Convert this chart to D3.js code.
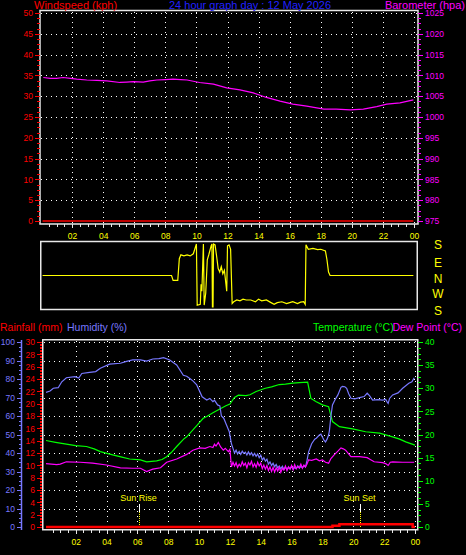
<!DOCTYPE html>
<html><head><meta charset="utf-8">
<script src="https://cdn.jsdelivr.net/npm/d3@7"></script>
<style>body{margin:0;background:#000}svg{display:block}</style>
</head><body>
<script>
// ---------- DATA ----------
const hourLabels = ["02","04","06","08","10","12","14","16","18","20","22","00"];
const hourTicks = [2,4,6,8,10,12,14,16,18,20,22,24];
const dirLabels = ["S","E","N","W","S"];
const dirLabelDeg = [180,90,0,-90,-180];
const sunLabels = ["Sun Rise","Sun Set"];
const sunHours = [6.12,20.43];

const windSpeed = [[0.1,0],[6,0],[12,0],[18,0],[23.96,0]];
const barometer = [[0.15,1009.5],[0.6,1009.3],[1.0,1009.3],[1.43,1009.5],[1.9,1009.3],[2.3,1009.1],[2.94,1008.9],[3.6,1008.8],[4.23,1008.7],[5.08,1008.3],[5.5,1008.4],[5.94,1008.5],[6.58,1008.4],[7.0,1008.7],[7.45,1008.9],[8.0,1009.0],[8.5,1009.1],[9.0,1009.0],[9.4,1008.9],[10.2,1008.3],[11.1,1007.9],[11.95,1007.0],[12.8,1006.5],[13.66,1005.8],[14.5,1004.7],[15.38,1003.8],[16.2,1003.1],[17.1,1002.6],[18.2,1001.9],[19.0,1001.9],[19.9,1001.7],[20.74,1001.9],[21.6,1002.5],[22.25,1003.1],[23.1,1003.4],[23.96,1004.1]];

const windDir = [[0.1,0],[8.4,0],[8.5,-28],[8.8,-28],[8.9,96],[9.0,118],[9.2,112],[9.4,118],[9.6,112],[9.8,124],[10.0,180],[10.05,-170],[10.25,-165],[10.3,-50],[10.35,-90],[10.45,180],[10.5,-169],[10.6,-100],[10.7,90],[10.8,120],[10.95,170],[11.0,180],[11.03,-180],[11.07,-180],[11.1,180],[11.2,175],[11.3,110],[11.4,40],[11.5,20],[11.6,50],[11.7,10],[11.8,30],[11.95,-90],[12.0,170],[12.1,175],[12.2,150],[12.3,-160],[12.4,-150],[12.6,-140],[12.8,-145],[13.0,-135],[13.2,-140],[13.5,-140],[13.8,-150],[14.0,-135],[14.2,-145],[14.5,-140],[14.8,-155],[15.0,-165],[15.2,-155],[15.5,-150],[15.8,-160],[16.0,-155],[16.2,-150],[16.5,-160],[16.7,-152],[16.9,-150],[17.0,-165],[17.05,175],[17.2,150],[17.5,155],[17.8,148],[18.0,150],[18.3,140],[18.4,90],[18.5,20],[18.6,0],[23.96,0]];

const humidity = [[0.08,72.8],[0.34,73.5],[0.55,75],[0.87,75.3],[1.1,78.5],[1.4,80.7],[1.96,81.3],[2.2,80.5],[2.4,83],[2.9,83.6],[3.3,84],[3.6,85.8],[4.2,88],[4.9,88.5],[5.3,89.5],[5.7,90.3],[6.2,90.3],[6.6,89.7],[7.0,90.8],[7.4,91.0],[7.7,91.5],[8.1,90.3],[8.55,87.6],[8.98,82],[9.2,81.5],[9.4,80.3],[9.6,79],[9.85,76.8],[10.2,70.4],[10.5,68.6],[10.7,69.5],[10.9,67.7],[11.0,68.5],[11.2,66],[11.35,65.5],[11.45,60],[11.6,58.8],[11.74,56],[11.96,51.5],[12.1,45],[12.2,42.5],[12.3,40.0],[12.4,41.5],[12.5,39.5],[12.6,40.8],[12.7,39.2],[12.8,41.0],[12.9,39.8],[13.0,40.5],[13.1,38.9],[13.2,40.6],[13.3,39.0],[13.4,40.2],[13.5,38.5],[13.6,39.8],[13.7,38.2],[13.8,39.5],[13.9,37.5],[14.0,38.8],[14.1,36.2],[14.2,37.4],[14.3,35.6],[14.4,36.6],[14.5,34.0],[14.6,35.2],[14.7,33.2],[14.8,34.5],[14.9,32.6],[15.0,33.8],[15.1,32.0],[15.2,33.0],[15.3,31.5],[15.4,32.8],[15.5,31.2],[15.6,32.4],[15.7,31.0],[15.8,32.3],[15.9,31.4],[16.0,32.6],[16.1,31.2],[16.2,32.2],[16.3,31.6],[16.4,33.0],[16.5,31.8],[16.6,32.8],[16.7,32.0],[16.8,33.2],[16.9,32.4],[17.0,36.0],[17.1,40.5],[17.3,45],[17.5,47.5],[17.6,48],[17.8,49.7],[17.9,50.2],[18.0,48.5],[18.1,47],[18.2,46],[18.3,47.5],[18.4,49.7],[18.45,52],[18.55,60],[18.65,66],[18.8,68.5],[19.0,71.4],[19.2,75.5],[19.3,76],[19.45,75.8],[19.57,75],[19.7,72],[19.85,69.6],[20.1,69.3],[20.4,69.9],[20.7,70.5],[20.9,72.3],[21.05,71],[21.25,68.6],[21.6,68.8],[21.9,68.6],[22.1,69],[22.2,67.5],[22.26,66.8],[22.35,69.5],[22.55,71.4],[22.9,72.5],[23.2,75],[23.6,77.7],[23.8,78.5],[23.95,80.7]];

const temperature = [[0.08,18.7],[0.7,18.3],[1.4,17.9],[2.0,17.6],[2.7,17.4],[3.2,16.9],[3.6,16.3],[4.4,15.6],[5.0,15.1],[5.5,14.7],[6.2,14.5],[6.6,14.1],[7.25,14.3],[7.6,14.6],[7.9,15.2],[8.2,16.1],[8.55,17.4],[9.0,19.0],[9.2,19.5],[9.85,21.9],[10.27,23.5],[10.5,23.9],[10.9,24.7],[11.35,25.5],[11.74,26.2],[12.0,26.6],[12.3,28.0],[12.55,28.5],[13.04,28.4],[13.3,28.6],[13.7,29.3],[14.3,30.0],[14.7,30.3],[15.2,30.8],[15.6,30.9],[16.07,31.1],[16.5,31.2],[17.04,31.3],[17.25,27.8],[17.6,27.1],[18.0,26.4],[18.4,26.0],[18.65,22.8],[19.1,21.7],[19.95,21.2],[20.8,20.6],[21.7,20.3],[22.55,19.5],[23.0,19.0],[23.4,18.4],[24,17.7]];

const dewPoint = [[0.08,13.7],[0.77,13.5],[1.0,13.6],[1.4,14.1],[2.3,14.0],[3.1,13.8],[4.0,13.4],[4.9,12.8],[5.7,12.7],[6.2,12.7],[6.6,12.0],[7.0,12.5],[7.5,12.8],[7.9,14.0],[8.55,14.7],[9.2,15.7],[9.6,16.6],[10.05,17.1],[10.4,17.0],[10.7,17.4],[10.9,17.2],[11.0,17.9],[11.1,17.5],[11.25,18.3],[11.4,17.3],[11.57,16.6],[11.7,17.0],[11.9,16.3],[12.0,16.8],[12.1,13.0],[12.2,14.0],[12.3,13.2],[12.4,13.9],[12.5,12.9],[12.6,13.6],[12.7,13.1],[12.8,14.1],[12.9,13.3],[13.0,13.8],[13.1,12.8],[13.2,13.9],[13.3,13.4],[13.4,14.2],[13.5,13.0],[13.6,13.7],[13.7,12.9],[13.8,14.0],[13.9,13.2],[14.0,13.8],[14.1,12.6],[14.2,13.4],[14.3,12.5],[14.4,13.3],[14.5,12.2],[14.6,13.0],[14.7,12.0],[14.8,12.9],[14.9,11.9],[15.0,12.8],[15.1,12.1],[15.2,12.9],[15.3,11.8],[15.4,12.7],[15.5,12.3],[15.6,13.2],[15.7,12.2],[15.8,13.0],[15.9,12.5],[16.0,13.3],[16.1,12.4],[16.2,13.5],[16.3,12.6],[16.4,13.1],[16.5,12.8],[16.6,13.6],[16.7,12.7],[16.8,13.4],[16.9,13.0],[17.0,13.6],[17.1,14.5],[17.3,14.4],[17.6,14.7],[17.8,14.3],[18.0,14.5],[18.2,14.0],[18.4,13.8],[18.55,14.8],[18.76,15.6],[19.0,16.4],[19.2,17.1],[19.35,16.9],[19.5,16.6],[19.7,15.8],[19.85,15.2],[20.4,15.2],[20.9,15.0],[21.1,14.6],[21.35,14.1],[21.9,13.9],[22.1,13.7],[22.26,13.3],[22.4,14.0],[22.55,14.1],[23.2,14.0],[23.95,14.0]];

const rainfall = [[0.08,0],[18.65,0],[18.65,0.2],[19.1,0.2],[19.1,0.45],[23.85,0.45],[23.85,0],[24,0]];

// ---------- DRAW ----------
const W = 466, H = 555;
const svg = d3.select("body").append("svg").attr("width", W).attr("height", H)
  .style("background", "#000");

const FONT = "Liberation Sans, Arial, sans-serif";
const AXF = 8.5;
const C = {red:"#ff0000", mag:"#ff00ff", blue:"#2020ff", hum:"#7878ff", green:"#00ff00", yel:"#ffff00", frame:"#e8e8e8", grid:"#ffffff"};
const fmt = d3.format("d");

function styleAxis(g, color, size) {
  g.select(".domain").remove();
  g.selectAll("line").attr("stroke", color).attr("shape-rendering", "crispEdges");
  g.selectAll("text").attr("fill", color).attr("font-family", FONT).attr("font-size", size);
}
function minorAxis(axisFn, scale, values, len, color, tx, ty) {
  const g = svg.append("g").attr("transform", `translate(${tx},${ty})`)
    .call(axisFn(scale).tickValues(values).tickSize(len).tickFormat(""));
  styleAxis(g, color, 8);
  return g;
}

// ===== Top panel =====
const xT = d3.scaleLinear().domain([0,24]).range([41,414]);
const ySpd = d3.scaleLinear().domain([0,50]).range([221,13]);
const yBar = d3.scaleLinear().domain([975,1025]).range([221,13]);

const gridT = svg.append("g");
gridT.selectAll("line.h").data(d3.range(5,51,5)).join("line")
  .attr("x1", 41).attr("x2", 417).attr("y1", d => Math.round(ySpd(d))+0.5).attr("y2", d => Math.round(ySpd(d))+0.5);
gridT.selectAll("line.v").data(hourTicks).join("line")
  .attr("x1", d => Math.round(xT(d))+0.5).attr("x2", d => Math.round(xT(d))+0.5).attr("y1", 12).attr("y2", 223);
gridT.selectAll("line").attr("stroke", C.grid).attr("stroke-dasharray", "1,4").attr("stroke-width", 1);

svg.append("rect").attr("x", 40).attr("y", 10.5).attr("width", 378).attr("height", 213.5)
  .attr("fill", "none").attr("stroke", C.frame).attr("stroke-width", 1.5);

minorAxis(d3.axisLeft, ySpd, d3.range(0,50.01,1.25), 3, C.red, 40, 0);
let g = svg.append("g").attr("transform", "translate(40,0)")
  .call(d3.axisLeft(ySpd).tickValues(d3.range(0,51,5)).tickSize(5).tickPadding(2).tickFormat(fmt));
styleAxis(g, C.red, AXF);
minorAxis(d3.axisRight, yBar, d3.range(975,1025.01,1.25), 3, C.mag, 418, 0);
g = svg.append("g").attr("transform", "translate(418,0)")
  .call(d3.axisRight(yBar).tickValues(d3.range(975,1026,5)).tickSize(5).tickPadding(2).tickFormat(fmt));
styleAxis(g, C.mag, AXF);
minorAxis(d3.axisBottom, xT, d3.range(0.5,24,0.5), 3, C.frame, 0, 224);
g = svg.append("g").attr("transform", "translate(0,224)")
  .call(d3.axisBottom(xT).tickValues(hourTicks).tickSize(4).tickPadding(5).tickFormat((d,i) => hourLabels[i]));
styleAxis(g, C.yel, AXF);
g.selectAll("line").attr("stroke", C.frame);

const lineT = (yS) => d3.line().x(d => xT(d[0])).y(d => yS(d[1]));
svg.append("path").datum(windSpeed).attr("d", lineT(ySpd)).attr("fill","none").attr("stroke", C.red).attr("stroke-width", 1.5);
svg.append("path").datum(barometer).attr("d", lineT(yBar)).attr("fill","none").attr("stroke", C.mag).attr("stroke-width", 1.2);

svg.append("text").attr("x", 34).attr("y", 9).attr("fill", C.red).attr("font-family", FONT).attr("font-size", 11).text("Windspeed (kph)");
svg.append("text").attr("x", 250).attr("y", 9).attr("text-anchor","middle").attr("fill", C.blue).attr("font-family", FONT).attr("font-size", 11).text("24 hour graph day : 12 May 2026");
svg.append("text").attr("x", 465).attr("y", 9).attr("text-anchor","end").attr("fill", C.mag).attr("font-family", FONT).attr("font-size", 11).text("Barometer (hpa)");

// ===== Wind direction panel =====
const yDir = d3.scaleLinear().domain([-180,180]).range([307,244]);
svg.append("rect").attr("x", 40.75).attr("y", 241.5).attr("width", 376.5).attr("height", 68)
  .attr("fill", "none").attr("stroke", C.frame).attr("stroke-width", 1.5);
svg.append("path").datum(windDir).attr("d", lineT(yDir)).attr("fill","none").attr("stroke", C.yel).attr("stroke-width", 1.2);
svg.selectAll("text.dir").data(dirLabels).join("text").attr("class","dir")
  .attr("x", 438).attr("y", (d,i) => yDir(dirLabelDeg[i]) + (i===0 ? 1 : i===4 ? 4 : 3) + 4)
  .attr("text-anchor","middle").attr("fill", C.yel).attr("font-family", FONT).attr("font-size", 12).text(d => d);

// ===== Bottom panel =====
const xB = d3.scaleLinear().domain([0,24]).range([44.8,415]);
const yHum = d3.scaleLinear().domain([0,100]).range([527,342]);
const yRain = d3.scaleLinear().domain([0,30]).range([527,342]);
const yTemp = d3.scaleLinear().domain([0,40]).range([527,342]);

const gridB = svg.append("g");
gridB.selectAll("line.h").data(d3.range(10,101,10)).join("line")
  .attr("x1", 44).attr("x2", 417).attr("y1", d => Math.round(yHum(d))+0.5).attr("y2", d => Math.round(yHum(d))+0.5);
gridB.selectAll("line.v").data(hourTicks).join("line")
  .attr("x1", d => Math.round(xB(d))+0.5).attr("x2", d => Math.round(xB(d))+0.5).attr("y1", 341).attr("y2", 529);
gridB.selectAll("line").attr("stroke", C.grid).attr("stroke-dasharray", "1,4").attr("stroke-width", 1);

svg.append("rect").attr("x", 42.75).attr("y", 339.75).attr("width", 375).attr("height", 190)
  .attr("fill", "none").attr("stroke", C.frame).attr("stroke-width", 1.5);

svg.append("line").attr("x1", 21.5).attr("x2", 21.5).attr("y1", 340).attr("y2", 530).attr("stroke", C.hum).attr("stroke-width", 1.5);
minorAxis(d3.axisLeft, yHum, d3.range(0,100.01,2.5), 2, C.hum, 21, 0);
g = svg.append("g").attr("transform", "translate(21,0)")
  .call(d3.axisLeft(yHum).tickValues(d3.range(0,101,10)).tickSize(4).tickPadding(2).tickFormat(fmt));
styleAxis(g, C.hum, AXF);
minorAxis(d3.axisLeft, yRain, d3.range(0,30.01,0.25), 2, C.red, 42, 0);
g = svg.append("g").attr("transform", "translate(41,0)")
  .call(d3.axisLeft(yRain).tickValues(d3.range(0,31,2)).tickSize(4).tickPadding(2).tickFormat(fmt));
styleAxis(g, C.red, AXF);
minorAxis(d3.axisRight, yTemp, d3.range(0,40.01,1.25), 3, C.green, 418, 0);
g = svg.append("g").attr("transform", "translate(418,0)")
  .call(d3.axisRight(yTemp).tickValues(d3.range(0,41,5)).tickSize(5).tickPadding(2).tickFormat(fmt));
styleAxis(g, C.green, AXF);
minorAxis(d3.axisBottom, xB, d3.range(0.5,24,0.5), 3, C.frame, 0, 530);
g = svg.append("g").attr("transform", "translate(0,530)")
  .call(d3.axisBottom(xB).tickValues(hourTicks).tickSize(4).tickPadding(5).tickFormat((d,i) => hourLabels[i]));
styleAxis(g, C.yel, AXF);
g.selectAll("line").attr("stroke", C.frame);

const sun = svg.append("g");
sunHours.forEach((h, i) => {
  const x = Math.round(xB(h)) + 0.5;
  sun.append("line").attr("x1", x).attr("x2", x).attr("y1", 504).attr("y2", 512).attr("stroke", "#fff").attr("stroke-width", 1);
  sun.append("line").attr("x1", x).attr("x2", x).attr("y1", 512).attr("y2", 527).attr("stroke", C.yel).attr("stroke-width", 1).attr("stroke-dasharray", "1,1");
  sun.append("text").attr("x", x - 1).attr("y", 500.5).attr("text-anchor","middle").attr("fill", C.yel)
    .attr("font-family", FONT).attr("font-size", 9).text(sunLabels[i]);
});

const lineB = (yS) => d3.line().x(d => xB(d[0])).y(d => yS(d[1]));
svg.append("path").datum(temperature).attr("d", lineB(yTemp)).attr("fill","none").attr("stroke", C.green).attr("stroke-width", 1.2);
svg.append("path").datum(humidity).attr("d", lineB(yHum)).attr("fill","none").attr("stroke", C.hum).attr("stroke-width", 1.2);
svg.append("path").datum(dewPoint).attr("d", lineB(yTemp)).attr("fill","none").attr("stroke", C.mag).attr("stroke-width", 1.2);
svg.append("path").datum(rainfall).attr("d", lineB(yRain)).attr("fill","none").attr("stroke", C.red).attr("stroke-width", 2.5);

const leg = [["Rainfall (mm)", 0, "start", C.red], ["Humidity (%)", 67, "start", C.hum], ["Temperature (°C)", 313, "start", C.green], ["Dew Point (°C)", 462, "end", C.mag]];
svg.selectAll("text.leg").data(leg).join("text").attr("class","leg")
  .attr("x", d => d[1]).attr("y", 330.5).attr("text-anchor", d => d[2]).attr("fill", d => d[3])
  .attr("font-family", FONT).attr("font-size", 10.5).text(d => d[0]);
</script>
</body></html>
